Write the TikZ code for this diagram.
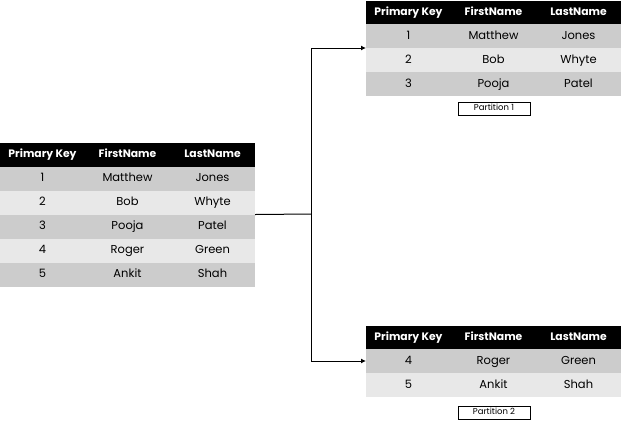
\documentclass[tikz,border=0pt]{standalone}
\usepackage{fontspec}
\setmainfont{Poppins}
\usetikzlibrary{arrows.meta}
\definecolor{rowdark}{HTML}{CCCCCC}
\definecolor{rowlight}{HTML}{E8E8E8}
\tikzset{
  cell/.style={minimum width=85pt, inner sep=0pt, outer sep=0pt, anchor=north west, text height=8pt, text depth=2pt, font=\fontsize{11.5}{12}\selectfont},
  hcell/.style={cell, minimum height=23.5pt, fill=black, text=white, font=\fontsize{10.8}{12}\selectfont\bfseries},
  dcell/.style={cell, minimum height=24pt, fill=rowdark},
  lcell/.style={cell, minimum height=24pt, fill=rowlight},
  partbox/.style={draw, line width=0.8pt, minimum width=72pt, minimum height=13pt, inner sep=0pt, text height=6pt, text depth=1.5pt, font=\fontsize{8.5}{9}\selectfont},
  conn/.style={line width=1pt, -{Latex[length=5pt,width=5pt]}},
}
\begin{document}
\begin{tikzpicture}[x=1pt,y=-1pt]
\useasboundingbox (0,0) rectangle (621,424);
% left table
\node[hcell] (Lh1) at (0,143) {Primary Key};
\node[hcell] (Lh2) at (85,143) {FirstName};
\node[hcell] (Lh3) at (170,143) {LastName};
\node[dcell] (L1a) at (0,166.5) {1};
\node[dcell] (L1b) at (85,166.5) {Matthew};
\node[dcell] (L1c) at (170,166.5) {Jones};
\node[lcell] (L2a) at (0,190.5) {2};
\node[lcell] (L2b) at (85,190.5) {Bob};
\node[lcell] (L2c) at (170,190.5) {Whyte};
\node[dcell] (L3a) at (0,214.5) {3};
\node[dcell] (L3b) at (85,214.5) {Pooja};
\node[dcell] (L3c) at (170,214.5) {Patel};
\node[lcell] (L4a) at (0,238.5) {4};
\node[lcell] (L4b) at (85,238.5) {Roger};
\node[lcell] (L4c) at (170,238.5) {Green};
\node[dcell] (L5a) at (0,262.5) {5};
\node[dcell] (L5b) at (85,262.5) {Ankit};
\node[dcell] (L5c) at (170,262.5) {Shah};
% top right table
\node[hcell] (Th1) at (366,0.5) {Primary Key};
\node[hcell] (Th2) at (451,0.5) {FirstName};
\node[hcell] (Th3) at (536,0.5) {LastName};
\node[dcell] (T1a) at (366,24) {1};
\node[dcell] (T1b) at (451,24) {Matthew};
\node[dcell] (T1c) at (536,24) {Jones};
\node[lcell] (T2a) at (366,48) {2};
\node[lcell] (T2b) at (451,48) {Bob};
\node[lcell] (T2c) at (536,48) {Whyte};
\node[dcell] (T3a) at (366,72) {3};
\node[dcell] (T3b) at (451,72) {Pooja};
\node[dcell] (T3c) at (536,72) {Patel};
\node[partbox] (P1) at (494,108.5) {Partition 1};
% bottom right table
\node[hcell] (Bh1) at (366,325.5) {Primary Key};
\node[hcell] (Bh2) at (451,325.5) {FirstName};
\node[hcell] (Bh3) at (536,325.5) {LastName};
\node[dcell] (B1a) at (366,349) {4};
\node[dcell] (B1b) at (451,349) {Roger};
\node[dcell] (B1c) at (536,349) {Green};
\node[lcell] (B2a) at (366,373) {5};
\node[lcell] (B2b) at (451,373) {Ankit};
\node[lcell] (B2c) at (536,373) {Shah};
\node[partbox] (P2) at (494,412.5) {Partition 2};
% connectors
\coordinate (J) at (311,214);
\draw[line width=1pt] (L2c.south east) -- (J);
\draw[conn] (J) |- (T1a.south west);
\draw[conn] (J) |- (B1a.west);
\end{tikzpicture}
\end{document}
